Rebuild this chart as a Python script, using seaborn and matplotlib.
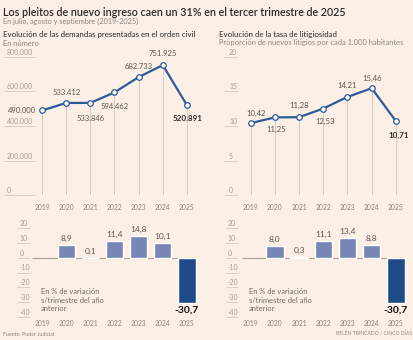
import numpy as np
import pandas as pd
import matplotlib
matplotlib.use("Agg")
import matplotlib.pyplot as plt
import matplotlib.transforms as mtransforms
import seaborn as sns

# ---------------- data ----------------
years = ["2019", "2020", "2021", "2022", "2023", "2024", "2025"]
demandas = [490000, 533412, 533846, 594462, 682733, 751925, 520891]
demandas_labels = ["490.000", "533.412", "533.846", "594.462", "682.733", "751.925", "520.891"]
tasa = [10.42, 11.25, 11.28, 12.53, 14.21, 15.46, 10.71]
tasa_labels = ["10,42", "11,25", "11,28", "12,53", "14,21", "15,46", "10,71"]
var_demandas = [np.nan, 8.9, 0.1, 11.4, 14.8, 10.1, -30.7]
var_demandas_labels = ["", "8,9", "0,1", "11,4", "14,8", "10,1", "-30,7"]
var_tasa = [np.nan, 8.0, 0.3, 11.1, 13.4, 8.8, -30.7]
var_tasa_labels = ["", "8,0", "0,3", "11,1", "13,4", "8,8", "-30,7"]
ticks_dem = [0, 200000, 400000, 600000, 800000]
ticks_dem_labels = ["0", "200.000", "400.000", "600.000", "800.000"]
ticks_tasa = [0, 5, 10, 15, 20]
ticks_tasa_labels = ["0", "5", "10", "15", "20"]
ticks_var = [20, 10, 0, -10, -20, -30, -40]
ticks_var_labels = ["20", "10", "0", "-10", "-20", "-30", "-40"]

title = "Los pleitos de nuevo ingreso caen un 31% en el tercer trimestre de 2025"
subtitle = "En julio, agosto y septiembre (2019-2025)"
left_head = "Evolución de las demandas presentadas en el orden civil"
left_sub = "En número"
right_head = "Evolución de la tasa de litigiosidad"
right_sub = "Proporción de nuevos litigios por cada 1.000 habitantes"
var_note = "En % de variación\ns/trimestre del año\nanterior"
source = "Fuente: Poder Judicial"
credit = "BELÉN TRINCADO / CINCO DÍAS"

# ---------------- style ----------------
BG = "#fcf0e6"
LINE = "#2c5a9a"
BAR_LIGHT = "#7886b6"
BAR_DARK = "#1f4c89"
GRID = "#d2c9c1"
TICKTXT = "#a59d96"
YEARTXT = "#8a847f"
LABTXT = "#5a5550"
DARK = "#2a2a2a"
GREYTXT = "#8a8580"

sns.set_theme(style="white")
plt.rcParams["font.family"] = ["Lato", "DejaVu Sans"]
plt.rcParams["figure.facecolor"] = BG
plt.rcParams["axes.facecolor"] = BG
plt.rcParams["savefig.facecolor"] = BG

W, H = 414, 340
fig = plt.figure(figsize=(W / 100, H / 100), dpi=100)
renderer = fig.canvas.get_renderer()


def fit(s, target_px, weight="normal"):
    """font size (pt) so that string s renders target_px wide"""
    t = fig.text(0, 0, s, fontsize=10, fontweight=weight)
    w = t.get_window_extent(renderer).width
    t.remove()
    return 10 * target_px / w


FS_TITLE = fit(title, 346, "semibold")
FS_SUB = fit(subtitle, 137)
FS_LHEAD = fit(left_head, 192)
FS_RSUB = fit(right_sub, 185)
FS_TICK = fit("200.000", 25.5)
FS_YEAR = fit("2019", 15.7)
FS_DLAB = fit("751.925", 28.3)
FS_DLAB_B = fit("520.891", 30, "bold")
FS_BLAB = fit("14,8", 16.4)
FS_BLAB_B = fit("-30,7", 24.3, "bold")
FS_NOTE = fit("En % de variación", 58.6)
FS_SRC = fit(source, 51.6)
FS_CRED = fit(credit, 75)


def px_axes(l, t, r, b):
    ax = fig.add_axes([l / W, 1 - b / H, (r - l) / W, (b - t) / H])
    ax.set_facecolor("none")
    for s in ax.spines.values():
        s.set_visible(False)
    return ax


PX = 0.72  # points per pixel


def yticks_manual(ax, vals, labels, x0, x1, xtxt):
    tr = mtransforms.blended_transform_factory(fig.transFigure, ax.transData)
    for v, lab in zip(vals, labels):
        ax.plot([x0 / W, x1 / W], [v, v], transform=tr, color=GRID, lw=0.6,
                clip_on=False, solid_capstyle="butt")
        ax.annotate(lab, xy=(xtxt / W, v), xycoords=tr, xytext=(0, 1.5),
                    textcoords="offset points", ha="left", va="baseline",
                    fontsize=FS_TICK, color=TICKTXT)


def line_panel(ax, vals, labels, ymax, offsets, tvals, tlabels, tx0, tx1, txt):
    df = pd.DataFrame({"x": np.arange(len(years)), "v": vals})
    ax.vlines(df["x"], 0, df["v"], color=GRID, lw=0.7, zorder=1)
    ax.plot([0, len(years) - 1], [0, 0], color=GRID, lw=0.7, zorder=1)
    sns.lineplot(data=df, x="x", y="v", ax=ax, color=LINE, lw=1.6,
                 marker="o", markersize=4, markerfacecolor="white",
                 markeredgecolor=LINE, markeredgewidth=0.9, zorder=3)
    ax.set_xlim(-0.5, len(years) - 0.5)
    ax.set_ylim(0, ymax)
    ax.set_xticks(np.arange(len(years)), labels=years)
    ax.tick_params(axis="x", length=0, pad=6.6, labelsize=FS_YEAR, labelcolor=YEARTXT)
    ax.set_yticks([])
    ax.set_xlabel("")
    ax.set_ylabel("")
    for i, (v, lab) in enumerate(zip(vals, labels)):
        dx, dy, ha = offsets[i]
        last = i == len(vals) - 1
        ax.annotate(lab, xy=(i, v), xytext=(dx * PX, -dy * PX),
                    textcoords="offset points", ha=ha, va="center",
                    fontsize=FS_DLAB_B if last else FS_DLAB,
                    fontweight="bold" if last else "normal",
                    color=DARK if last else LABTXT)
    yticks_manual(ax, tvals, tlabels, tx0, tx1, txt)


def bar_panel(ax, vals, labels, tx0, tx1, txt, zx0, zx1):
    df = pd.DataFrame({"year": years, "v": vals})
    pal = {y: BAR_LIGHT for y in years}
    pal[years[-1]] = BAR_DARK
    ax.plot([zx0, zx1], [0, 0], color="#aaa39c", lw=0.8, zorder=1,
            solid_capstyle="butt")
    sns.barplot(data=df, x="year", y="v", hue="year", palette=pal, ax=ax,
                width=0.72, legend=False, zorder=2, saturation=1)
    ax.set_xlim(-0.5, len(years) - 0.5)
    ax.set_ylim(-40, 20)
    ax.tick_params(axis="x", length=0, pad=2.6, labelsize=FS_YEAR, labelcolor=YEARTXT)
    ax.set_yticks([])
    ax.set_xlabel("")
    ax.set_ylabel("")
    for i, (v, lab) in enumerate(zip(vals, labels)):
        if np.isnan(v):
            continue
        if v >= 0:
            ax.annotate(lab, xy=(i, v), xytext=(0, 2.2), textcoords="offset points",
                        ha="center", va="bottom", fontsize=FS_BLAB, color=LABTXT)
        else:
            ax.annotate(lab, xy=(i, v), xytext=(0, -2.0), textcoords="offset points",
                        ha="center", va="top", fontsize=FS_BLAB_B, fontweight="bold",
                        color="#111111")
    yticks_manual(ax, ticks_var, ticks_var_labels, tx0, tx1, txt)


# ---------- panels ----------
ax1 = px_axes(30, 56.8, 199, 195.3)
off1 = [(-6, 0, "right"), (0, -10, "center"), (0, 16, "center"), (0, 14.6, "center"),
        (0, -11, "center"), (0, -11.7, "center"), (1, 13.5, "center")]
line_panel(ax1, demandas, demandas_labels, 800000, off1, ticks_dem, ticks_dem_labels,
           4, 35, 7)

ax2 = px_axes(238.6, 56.8, 408, 195.3)
off2 = [(5, -10, "center"), (1, 12, "center"), (0, -12, "center"), (1.5, 13, "center"),
        (0, -11, "center"), (0.5, -9.5, "center"), (3, 14, "center")]
line_panel(ax2, tasa, tasa_labels, 20, off2, ticks_tasa, ticks_tasa_labels,
           224, 238, 229)

ax3 = px_axes(30, 228.3, 199, 316.7)
bar_panel(ax3, var_demandas, var_demandas_labels, 17, 30, 19.5, -0.41, 6.33)

ax4 = px_axes(238.6, 228.3, 408, 316.7)
bar_panel(ax4, var_tasa, var_tasa_labels, 226, 238, 227.5, -0.36, 6.33)

# ---------- texts ----------
def ftxt(x, y, s, **kw):
    fig.text(x / W, 1 - y / H, s, **kw)

ftxt(3, 12, title, fontsize=FS_TITLE, fontweight="semibold", color=DARK, va="center")
ftxt(3, 21.5, subtitle, fontsize=FS_SUB, color=GREYTXT, va="center")
ftxt(3, 34, left_head, fontsize=FS_LHEAD, color=DARK, va="center")
ftxt(3, 43, left_sub, fontsize=FS_RSUB, color=GREYTXT, va="center")
ftxt(219.5, 34, right_head, fontsize=FS_LHEAD, color=DARK, va="center")
ftxt(219.5, 43, right_sub, fontsize=FS_RSUB, color=GREYTXT, va="center")
for xn in (40.7, 249):
    for k, line in enumerate(var_note.split("\n")):
        ftxt(xn, 292 + 8.3 * k, line, fontsize=FS_NOTE, color="#6f6a66", va="center")
ftxt(3, 334, source, fontsize=FS_SRC, color=GREYTXT, va="center")
ftxt(412, 334, credit, fontsize=FS_CRED, color=GREYTXT, va="center", ha="right")

fig.savefig("out.png", dpi=100, facecolor=BG)
